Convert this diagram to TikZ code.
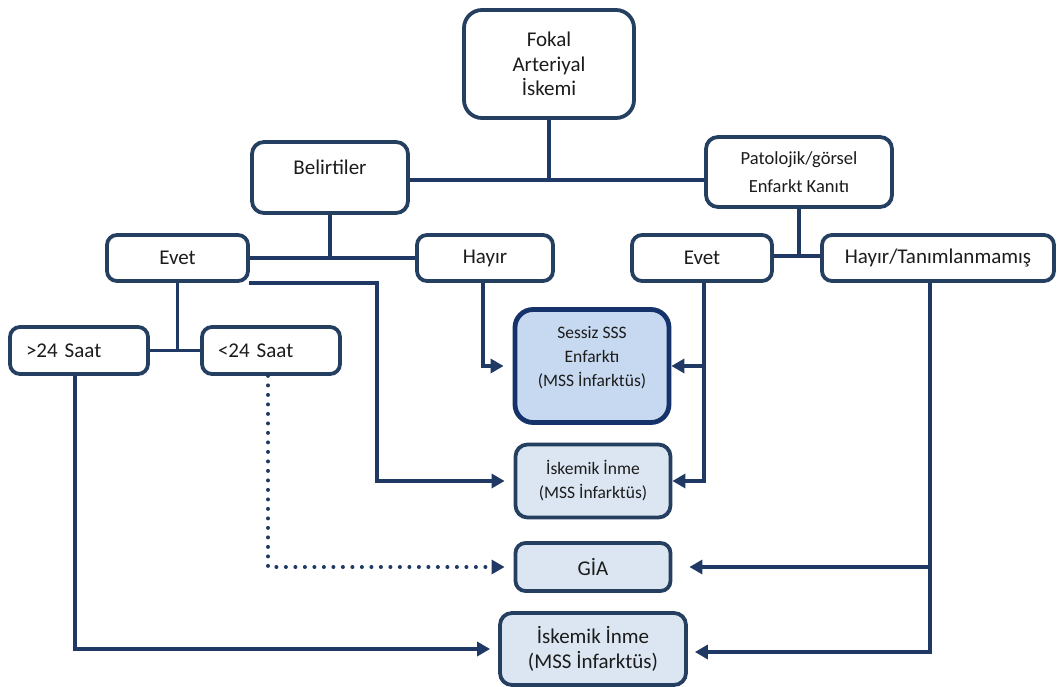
\documentclass[tikz,border=0pt]{standalone}
\usepackage{fontspec}
\setmainfont{Carlito}
\usetikzlibrary{arrows.meta}
\definecolor{bd}{HTML}{243F60}
\definecolor{ln}{HTML}{1F3864}
\definecolor{bdS}{HTML}{15336A}
\definecolor{fillA}{HTML}{C6D9F1}
\definecolor{fillB}{HTML}{DCE6F2}
\definecolor{txt}{HTML}{1C1C1C}
\begin{document}
\begin{tikzpicture}[x=1pt,y=-1pt,
  box/.style={draw=bd, line width=3.8pt, fill=white, rounded corners=#1,
    inner sep=0pt, text=txt, align=center},
  box/.default=10pt,
  lbl/.style={inner sep=0pt, text=txt, align=center},
  fa/.style={font=\fontsize{21}{24.5}\selectfont},
  fb/.style={font=\fontsize{17.5}{24}\selectfont},
  conn/.style={draw=ln, line width=3.5pt},
  tip/.style={-{Triangle[length=13pt,width=14pt]}},
  arr/.style={conn, tip},
  dots/.style={draw=ln, line width=4pt, line cap=round, dash pattern=on 0pt off 9.5pt},
]
\useasboundingbox (0,0) rectangle (1058,687);

% boxes
\node[box=18pt, fa, minimum width=170pt, minimum height=108pt] (fokal) at (549,64) {Fokal\\Arteriyal\\İskemi};
\node[box=12pt, fa, minimum width=156pt, minimum height=71pt, text height=14pt, text depth=20pt] (belirt) at (330,177.5) {Belirtiler};
\node[box=12pt, font=\fontsize{18.5}{28}\selectfont, minimum width=186pt, minimum height=70pt] (patol) at (799,172) {Patolojik/görsel\\Enfarkt Kanıtı};

\node[box=10pt, fa, minimum width=141pt, minimum height=46pt] (evetL) at (177.5,258) {Evet};
\node[box=10pt, fa, minimum width=136pt, minimum height=46pt] (hayir) at (485,258) {Hayır};
\node[box=10pt, fa, minimum width=140pt, minimum height=46pt] (evetR) at (702,258) {Evet};
\node[box=10pt, font=\fontsize{21}{24}\selectfont, minimum width=232pt, minimum height=46pt] (hayirT) at (938,258) {Hayır/Tanımlanmamış};

\node[box=10pt, fa, minimum width=138pt, minimum height=47pt, text width=106pt, align=left] (gt) at (79,350.5) {>24 Saat};
\node[box=10pt, fa, minimum width=138pt, minimum height=47pt, text width=106pt, align=left] (lt) at (271,350.5) {<24 Saat};

\node[box=18pt, draw=bdS, line width=4.8pt, fill=fillA, minimum width=154pt, minimum height=113pt] (sessiz) at (592,366) {};
\node[lbl, fb] (sessizT) at (592,357.5) {Sessiz SSS\\Enfarktı\\(MSS İnfarktüs)};

\node[box=12pt, fill=fillB, fb, minimum width=155pt, minimum height=73pt] (mid) at (593,481) {İskemik İnme\\(MSS İnfarktüs)};
\node[box=10pt, fill=fillB, fa, minimum width=155pt, minimum height=48pt] (gia) at (593,567) {GİA};
\node[box=12pt, fill=fillB, fa, minimum width=186pt, minimum height=72pt] (bot) at (593,649) {İskemik İnme\\(MSS İnfarktüs)};

% junction coordinates
\coordinate (j1) at (549,180);
\coordinate (xa) at (377,0);
\coordinate (xb) at (930,0);
\coordinate (xc) at (75,0);
\coordinate (xd) at (268,0);
\coordinate (xe) at (483,0);
\coordinate (xf) at (704,0);

% top tree
\draw[conn] (fokal.south) -- (fokal.south |- j1);
\draw[conn] (belirt.east |- j1) -- (patol.west |- j1);
\draw[conn] (belirt.south) -- (belirt.south |- evetL.center);
\draw[conn] (evetL.east) -- (hayir.west);
\draw[conn] (patol.south) -- ([yshift=2pt]patol.south |- evetR.center);
\draw[conn] ([yshift=2pt]evetR.east) -- ([yshift=2pt]hayirT.west);
\draw[conn] (evetL.south) -- (evetL.south |- gt.center);
\draw[conn] (gt.east) -- (lt.west);

% arrows
\draw[arr, shorten >=9pt] ([xshift=-1pt]evetL.south east) -| (xa |- mid.west) -- (mid.west);
\draw[arr, shorten >=9pt] (xe |- hayir.south) |- (sessiz.west);
\draw[arr, shorten >=0pt] (xf |- evetR.south) |- (mid.east);
\draw[arr, shorten >=0pt] (xf |- sessiz.east) -- (sessiz.east);
\draw[arr, shorten >=7pt] (xb |- hayirT.south) |- ([yshift=-3pt]bot.east);
\draw[arr, shorten >=17pt] (xb |- gia.east) -- (gia.east);
\draw[arr, shorten >=8pt] (xc |- gt.south) |- (bot.west);
\draw[dots] (xd |- lt.south) |- ([xshift=-16pt]gia.west);
\draw[ln, tip, line width=3.5pt, shorten >=9pt] ([xshift=-16pt]gia.west) -- (gia.west);
\end{tikzpicture}
\end{document}
